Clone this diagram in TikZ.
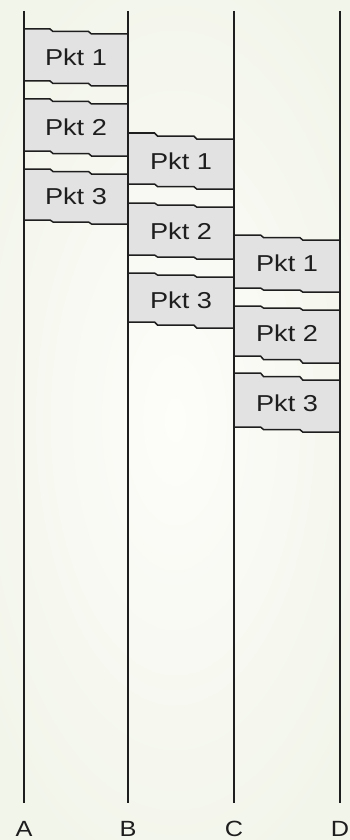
\documentclass[tikz,border=0pt]{standalone}
\usepackage{fontspec}
\setmainfont{Liberation Sans}
\definecolor{bginner}{HTML}{FDFDFA}
\definecolor{bgouter}{HTML}{F2F5EA}
\definecolor{pktgray}{HTML}{E2E2E2}
\definecolor{inkdark}{HTML}{1E1E1E}
\tikzset{
  pktfill/.style={fill=pktgray},
  pktedge/.style={draw=inkdark, line width=1.5pt, line join=miter},
  lifeline/.style={draw=inkdark, line width=2pt},
  pktlabel/.style={font=\fontsize{23}{23}\selectfont, text=inkdark, xscale=1.18, inner sep=0pt},
  hostlabel/.style={font=\fontsize{22}{22}\selectfont, text=inkdark, xscale=1.15, inner sep=0pt, anchor=base}
}
% packet: name, left x, right x, top-left y, top-right y, bottom-left y, bottom-right y, text
\newcommand\pkt[8]{%
  \pgfmathsetmacro\pktxa{#2+0.25*(#3-#2)}%
  \pgfmathsetmacro\pktxb{#2+0.62*(#3-#2)}%
  \pgfmathsetmacro\pkttm{(#4+#5)/2}%
  \pgfmathsetmacro\pktbm{(#6+#7)/2}%
  \fill[pktfill] (#2,#4) -- (\pktxa,#4) -- (\pktxa+3,\pkttm) -- (\pktxb,\pkttm) -- (\pktxb+3,#5) -- (#3,#5)
     -- (#3,#7) -- (\pktxb+3,#7) -- (\pktxb,\pktbm) -- (\pktxa+3,\pktbm) -- (\pktxa,#6) -- (#2,#6) -- cycle;
  \draw[pktedge] (#2,#4) -- (\pktxa,#4) -- (\pktxa+3,\pkttm) -- (\pktxb,\pkttm) -- (\pktxb+3,#5) -- (#3,#5);
  \draw[pktedge] (#2,#6) -- (\pktxa,#6) -- (\pktxa+3,\pktbm) -- (\pktxb,\pktbm) -- (\pktxb+3,#7) -- (#3,#7);
  \node[pktlabel] (#1) at ({(#2+#3)/2},{(#4+#5+#6+#7)/4}) {#8};
}
\begin{document}
\begin{tikzpicture}[x=1pt,y=-1pt]
  \useasboundingbox (0,0) rectangle (350,840);
  \shade[inner color=bginner, outer color=bgouter] (-60,-60) rectangle (410,900);

  % A -> B
  \pkt{ab1}{24}{128}{29}{34}{81}{86}{Pkt 1}
  \pkt{ab2}{24}{128}{99}{104}{151}{156}{Pkt 2}
  \pkt{ab3}{24}{128}{169}{174}{220}{224}{Pkt 3}
  % B -> C
  \pkt{bc1}{128}{234}{133}{139}{184}{189}{Pkt 1}
  \pkt{bc2}{128}{234}{203}{207}{255}{259}{Pkt 2}
  \pkt{bc3}{128}{234}{273}{277}{322}{328}{Pkt 3}
  % C -> D
  \pkt{cd1}{234}{340}{235}{240}{288}{292}{Pkt 1}
  \pkt{cd2}{234}{340}{306}{310}{356}{363}{Pkt 2}
  \pkt{cd3}{234}{340}{373}{380}{427}{432}{Pkt 3}

  % hosts
  \foreach \h/\x in {A/24,B/128,C/234,D/340}{
    \coordinate (\h top) at (\x,11);
    \coordinate (\h bot) at (\x,803);
    \draw[lifeline] (\h top) -- (\h bot);
    \node[hostlabel] (lab\h) at (\x,836) {\h};
  }
\end{tikzpicture}
\end{document}
